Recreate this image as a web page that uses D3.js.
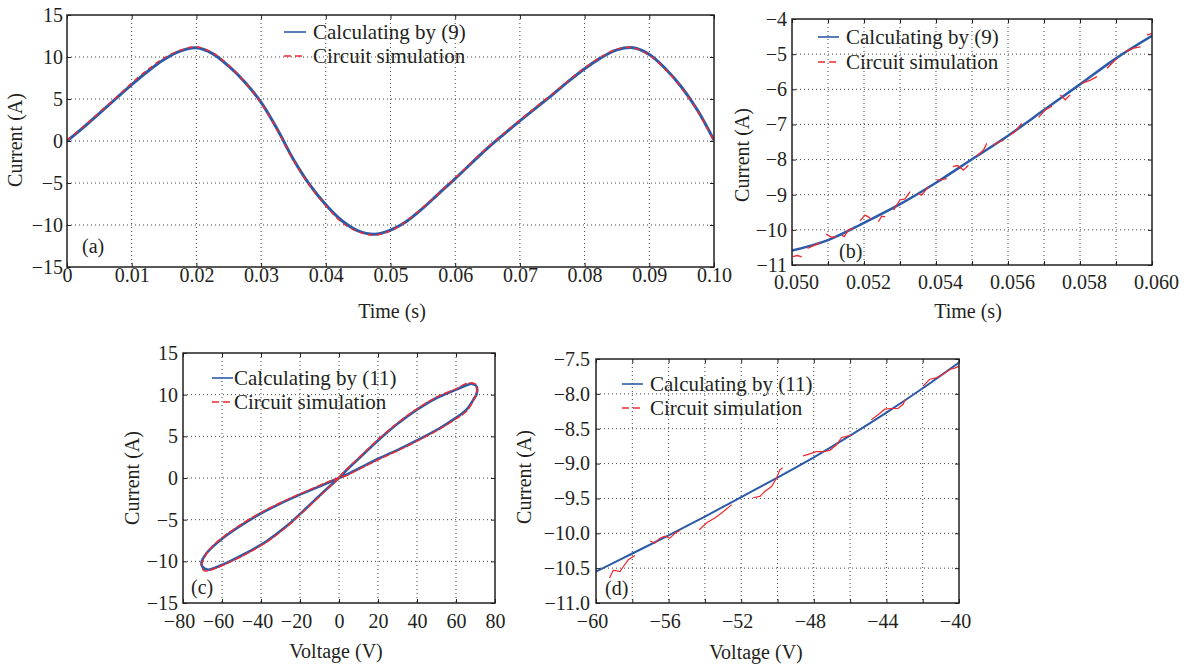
<!DOCTYPE html>
<html>
<head>
<meta charset="utf-8">
<script src="https://cdn.jsdelivr.net/npm/d3@7"></script>
<style>
  body { margin: 0; background: #fff; }
  text { font-family: "Liberation Serif", "Times New Roman", serif; fill: #231f20; }
</style>
</head>
<body>
<svg id="fig" width="1189" height="670"></svg>
<script>
// ---------- (a) current vs time ----------
var timeA = [0, 0.0025, 0.005, 0.0075, 0.01, 0.0125, 0.015, 0.0175, 0.02, 0.0225,
  0.025, 0.0275, 0.03, 0.0325, 0.035, 0.0375, 0.04, 0.0425, 0.045, 0.0475,
  0.05, 0.0525, 0.055, 0.0575, 0.06, 0.0625, 0.065, 0.0675, 0.07, 0.0725,
  0.075, 0.0775, 0.08, 0.0825, 0.085, 0.0875, 0.09, 0.0925, 0.095, 0.0975, 0.1];
var calcA = [0, 1.6, 3.3, 5.0, 6.7, 8.3, 9.7, 10.7, 11.1, 10.4,
  8.9, 7.0, 4.6, 1.4, -2.2, -5.2, -7.6, -9.5, -10.7, -11.1,
  -10.6, -9.55, -8.0, -6.23, -4.48, -2.65, -0.85, 0.8, 2.4, 3.95,
  5.5, 7.1, 8.6, 9.9, 10.85, 11.1, 10.3, 8.6, 6.4, 3.6, 0.1];
var simA = [0.1, 1.7, 3.4, 5.1, 6.9, 8.5, 9.9, 10.8, 11.2, 10.5,
  9.0, 7.0, 4.5, 1.3, -2.3, -5.3, -7.7, -9.7, -10.8, -11.2,
  -10.7, -9.5, -7.9, -6.2, -4.4, -2.55, -0.75, 0.9, 2.5, 4.05,
  5.6, 7.2, 8.7, 10.0, 10.95, 11.1, 10.2, 8.5, 6.3, 3.5, 0.0];
var xTicksA = [0, 0.01, 0.02, 0.03, 0.04, 0.05, 0.06, 0.07, 0.08, 0.09, 0.1];
var xLabelsA = ["0", "0.01", "0.02", "0.03", "0.04", "0.05", "0.06", "0.07", "0.08", "0.09", "0.10"];
var yTicksA = [-15, -10, -5, 0, 5, 10, 15];
var yLabelsA = ["\u221215", "\u221210", "\u22125", "0", "5", "10", "15"];

// ---------- (b) zoom of (a) ----------
var timeB = [0.050, 0.051, 0.052, 0.053, 0.054, 0.055, 0.056, 0.057, 0.058, 0.059, 0.060];
var calcB = [-10.59, -10.29, -9.80, -9.27, -8.66, -7.99, -7.32, -6.59, -5.86, -5.12, -4.48];
var simB = [
  [[0.05002, -10.76], [0.05015, -10.73], [0.05027, -10.77]],
  [[0.05043, -10.53], [0.0506, -10.45], [0.05078, -10.37]],
  [[0.05095, -10.12], [0.0511, -10.21], [0.05122, -10.2]],
  [[0.05138, -10.15], [0.05145, -10.19], [0.05157, -10.0], [0.0517, -9.96]],
  [[0.05189, -9.74], [0.05203, -9.58], [0.05212, -9.63], [0.0522, -9.7]],
  [[0.0524, -9.77], [0.05249, -9.61], [0.05259, -9.63]],
  [[0.05282, -9.44], [0.053, -9.15], [0.05314, -9.12], [0.05328, -8.91]],
  [[0.05351, -8.96], [0.0536, -9.01], [0.05379, -8.77]],
  [[0.05402, -8.58], [0.05415, -8.57], [0.0543, -8.54]],
  [[0.05447, -8.2], [0.0546, -8.17], [0.05476, -8.3], [0.0549, -8.16]],
  [[0.05513, -7.9], [0.05532, -7.73], [0.05541, -7.54]],
  [[0.0556, -7.59], [0.05574, -7.5], [0.05588, -7.45]],
  [[0.05606, -7.3], [0.0562, -7.2], [0.05638, -6.97]],
  [[0.05685, -6.8], [0.05703, -6.59], [0.05722, -6.48]],
  [[0.05745, -6.16], [0.05759, -6.3], [0.05773, -6.16]],
  [[0.05805, -5.83], [0.05829, -5.74], [0.05847, -5.64]],
  [[0.05875, -5.4], [0.05889, -5.26], [0.05903, -5.12]],
  [[0.05926, -4.93], [0.05949, -4.83], [0.05968, -4.79]],
  [[0.05986, -4.46], [0.06, -4.41]]
];
var xTicksB = [0.050, 0.051, 0.052, 0.053, 0.054, 0.055, 0.056, 0.057, 0.058, 0.059, 0.060];
var xLabelsB = ["0.050", "", "0.052", "", "0.054", "", "0.056", "", "0.058", "", "0.060"];
var yTicksB = [-11, -10, -9, -8, -7, -6, -5, -4];
var yLabelsB = ["\u221211", "\u221210", "\u22129", "\u22128", "\u22127", "\u22126", "\u22125", "\u22124"];

// ---------- (c) current vs voltage loop ----------
var voltC = [0, 5, 10, 20, 30, 40, 50, 60, 65, 68.3, 70.2, 70.9, 70.4, 68.9, 65.4, 58.6,
  51.8, 41.5, 31.2, 21, 10.7, 3.9, 0, -6, -13, -23, -33, -42, -51, -59,
  -65, -68.5, -70.5, -70.2, -67.2, -62.9, -56, -47.5, -37.2, -27, -16.7, -8.1, 0];
var calcC = [0, 1.2, 2.3, 4.5, 6.5, 8.2, 9.6, 10.6, 11.1, 11.3, 11.1, 10.6, 10.0, 9.4, 8.2, 7.0,
  6.0, 4.7, 3.5, 2.4, 1.2, 0.4, 0, -0.6, -1.3, -2.3, -3.4, -4.5, -5.8, -7.1,
  -8.3, -9.2, -10.1, -10.6, -11.0, -10.7, -10.0, -9.0, -7.6, -5.8, -3.6, -1.7, 0];
var voltSimC = [0, 5, 10, 20, 30, 40, 50, 60, 65, 68.3, 70.2, 70.6, 69.8, 68.5, 65.4, 58.6,
  51.8, 41.5, 31.2, 21, 10.7, 3.9, 0, -6, -13, -23, -33, -42, -51, -59,
  -65, -68.5, -70.3, -69.5, -67, -62.9, -56, -47.5, -37.2, -27, -16.7, -8.1, 0];
var simC = [0.1, 1.3, 2.4, 4.6, 6.6, 8.3, 9.7, 10.7, 11.3, 11.4, 11.2, 10.3, 9.7, 9.1, 8.0, 6.9,
  5.9, 4.6, 3.4, 2.3, 1.1, 0.3, 0, -0.5, -1.2, -2.2, -3.3, -4.4, -5.7, -7.0,
  -8.2, -9.3, -10.3, -11.1, -11.1, -10.8, -10.1, -9.1, -7.7, -5.9, -3.7, -1.8, 0];
var xTicksC = [-80, -60, -40, -20, 0, 20, 40, 60, 80];
var xLabelsC = ["\u221280", "\u221260", "\u221240", "\u221220", "0", "20", "40", "60", "80"];
var yTicksC = [-15, -10, -5, 0, 5, 10, 15];
var yLabelsC = ["\u221215", "\u221210", "\u22125", "0", "5", "10", "15"];

// ---------- (d) zoom of (c) ----------
var voltD = [-60, -58, -56, -54, -52, -50, -48, -46, -44, -42, -40];
var calcD = [-10.55, -10.29, -10.03, -9.76, -9.48, -9.20, -8.91, -8.60, -8.27, -7.92, -7.55];
var simD = [
  [[-59.25, -10.64], [-59.05, -10.53], [-58.68, -10.55], [-58.5, -10.48], [-58.22, -10.38], [-57.85, -10.32]],
  [[-57.03, -10.11], [-56.75, -10.14], [-56.48, -10.07], [-56.2, -10.04], [-55.93, -10.07], [-55.65, -10.0], [-55.38, -9.96]],
  [[-54.31, -9.95], [-53.9, -9.85], [-53.45, -9.78], [-53.08, -9.71], [-52.62, -9.61], [-52.53, -9.59]],
  [[-51.34, -9.49], [-50.97, -9.47], [-50.7, -9.40], [-50.33, -9.33], [-50.06, -9.21], [-49.87, -9.09], [-49.72, -9.06]],
  [[-48.59, -8.89], [-48.22, -8.86], [-47.85, -8.83], [-47.49, -8.83], [-47.12, -8.81], [-46.75, -8.73], [-46.48, -8.63], [-46.2, -8.61], [-45.93, -8.59]],
  [[-44.83, -8.37], [-44.46, -8.30], [-44.09, -8.22], [-43.73, -8.21], [-43.36, -8.21], [-43.08, -8.15], [-42.96, -8.08]],
  [[-41.98, -7.89], [-41.61, -7.79], [-41.25, -7.77], [-40.88, -7.72], [-40.51, -7.65], [-40.24, -7.63], [-39.96, -7.6]]
];
var xTicksD = [-60, -58, -56, -54, -52, -50, -48, -46, -44, -42, -40];
var xLabelsD = ["\u221260", "", "\u221256", "", "\u221252", "", "\u221248", "", "\u221244", "", "\u221240"];
var yTicksD = [-11, -10.5, -10, -9.5, -9, -8.5, -8, -7.5];
var yLabelsD = ["\u221211.0", "\u221210.5", "\u221210.0", "\u22129.5", "\u22129.0", "\u22128.5", "\u22128.0", "\u22127.5"];

var blue = "#2b5ba8";
var red = "#ee2a30";
var ink = "#231f20";

var svg = d3.select("#fig");

function drawPanel(p) {
  var w = p.right - p.left, h = p.bottom - p.top;
  var x = d3.scaleLinear().domain(p.xDomain).range([0, w]);
  var y = d3.scaleLinear().domain(p.yDomain).range([h, 0]);

  var g = svg.append("g").attr("transform", "translate(" + p.left + "," + p.top + ")");

  g.append("clipPath").attr("id", "clip" + p.id)
    .append("rect").attr("width", w).attr("height", h);

  // dotted grid
  var grid = g.append("g").attr("stroke", "#444").attr("stroke-width", 1).attr("stroke-dasharray", "1,3");
  grid.selectAll("line.gx")
    .data(p.xTicks.slice(1, -1))
    .enter().append("line")
    .attr("x1", function(d) { return x(d); }).attr("x2", function(d) { return x(d); })
    .attr("y1", 0).attr("y2", h);
  grid.selectAll("line.gy")
    .data(p.yTicks.slice(1, -1))
    .enter().append("line")
    .attr("y1", function(d) { return y(d); }).attr("y2", function(d) { return y(d); })
    .attr("x1", 0).attr("x2", w);

  // series
  var plot = g.append("g").attr("clip-path", "url(#clip" + p.id + ")");
  p.draw(plot, x, y);

  // axes (ticks pointing inward)
  function style(ax) {
    ax.select(".domain").remove();
    ax.attr("font-family", "Liberation Serif, Times New Roman, serif")
      .attr("font-size", 20)
      .attr("color", ink);
  }
  var bottom = g.append("g").attr("transform", "translate(0," + h + ")")
    .call(d3.axisBottom(x).tickValues(p.xTicks)
      .tickFormat(function(d, i) { return p.xLabels[i]; })
      .tickSizeInner(-4).tickSizeOuter(0).tickPadding(p.xPad));
  style(bottom);
  bottom.selectAll("text").attr("dx", function() {
    return this.textContent.charAt(0) == "\u2212" ? -4 : p.xShift;
  });
  var left = g.append("g")
    .call(d3.axisLeft(y).tickValues(p.yTicks)
      .tickFormat(function(d, i) { return p.yLabels[i]; })
      .tickSizeInner(-4).tickSizeOuter(0).tickPadding(p.yPad));
  style(left);
  var top = g.append("g")
    .call(d3.axisTop(x).tickValues(p.xTicks).tickFormat("").tickSizeInner(-4).tickSizeOuter(0));
  style(top);
  var right = g.append("g").attr("transform", "translate(" + w + ",0)")
    .call(d3.axisRight(y).tickValues(p.yTicks).tickFormat("").tickSizeInner(-4).tickSizeOuter(0));
  style(right);

  // frame
  g.append("rect")
    .attr("width", w).attr("height", h)
    .attr("fill", "none").attr("stroke", ink).attr("stroke-width", 1.5);

  // axis titles
  svg.append("text")
    .attr("x", p.xTitle[0]).attr("y", p.xTitle[1])
    .attr("text-anchor", "middle").attr("font-size", 20)
    .text(p.xTitleText);
  svg.append("text")
    .attr("transform", "translate(" + p.yTitle[0] + "," + p.yTitle[1] + ") rotate(-90)")
    .attr("text-anchor", "middle").attr("font-size", 20)
    .text("Current (A)");

  // panel tag
  svg.append("text")
    .attr("x", p.tag[0]).attr("y", p.tag[1])
    .attr("font-size", 20)
    .text(p.tagText);

  // legend
  var lg = svg.append("g");
  var rows = [
    { text: p.legend, color: blue, dash: null },
    { text: "Circuit simulation", color: red, dash: "7,4" }
  ];
  rows.forEach(function(r, i) {
    var ly = p.legendY[i];
    lg.append("line")
      .attr("x1", p.legendX[0]).attr("x2", p.legendX[1])
      .attr("y1", ly).attr("y2", ly)
      .attr("stroke", r.color).attr("stroke-width", 1.6)
      .attr("stroke-dasharray", r.dash);
    lg.append("text")
      .attr("x", p.legendX[2]).attr("y", ly + 7)
      .attr("font-size", 21)
      .text(r.text);
  });
}

var smooth = d3.line().curve(d3.curveCatmullRom);
var jagged = d3.line();

// (a)
drawPanel({
  id: "a", left: 67, right: 714, top: 15, bottom: 267,
  xDomain: [0, 0.1], yDomain: [-15, 15],
  xTicks: xTicksA, xLabels: xLabelsA, yTicks: yTicksA, yLabels: yLabelsA,
  xPad: 1, yPad: 4, xShift: 0,
  xTitleText: "Time (s)", xTitle: [392, 318], yTitle: [22, 140],
  tagText: "(a)", tag: [82, 253],
  legend: "Calculating by (9)", legendX: [284, 306, 313], legendY: [32, 56],
  draw: function(plot, x, y) {
    plot.append("path")
      .attr("d", smooth(timeA.map(function(t, i) { return [x(t), y(calcA[i])]; })))
      .attr("fill", "none").attr("stroke", blue).attr("stroke-width", 3);
    plot.append("path")
      .attr("d", smooth(timeA.map(function(t, i) { return [x(t), y(simA[i])]; })))
      .attr("fill", "none").attr("stroke", red).attr("stroke-width", 1.5)
      .attr("stroke-dasharray", "5,4");
  }
});

// (b)
drawPanel({
  id: "b", left: 792, right: 1152, top: 19, bottom: 265,
  xDomain: [0.05, 0.06], yDomain: [-11, -4],
  xTicks: xTicksB, xLabels: xLabelsB, yTicks: yTicksB, yLabels: yLabelsB,
  xPad: 10, yPad: 5, xShift: 4,
  xTitleText: "Time (s)", xTitle: [968, 318], yTitle: [749, 155],
  tagText: "(b)", tag: [839, 258],
  legend: "Calculating by (9)", legendX: [818, 839, 846], legendY: [37, 62],
  draw: function(plot, x, y) {
    plot.append("path")
      .attr("d", smooth(timeB.map(function(t, i) { return [x(t), y(calcB[i])]; })))
      .attr("fill", "none").attr("stroke", blue).attr("stroke-width", 2.5);
    plot.selectAll("path.sim")
      .data(simB)
      .enter().append("path")
      .attr("class", "sim")
      .attr("d", function(seg) { return jagged(seg.map(function(d) { return [x(d[0]), y(d[1])]; })); })
      .attr("fill", "none").attr("stroke", red).attr("stroke-width", 1.3);
  }
});

// (c)
drawPanel({
  id: "c", left: 183, right: 495, top: 353, bottom: 603,
  xDomain: [-80, 80], yDomain: [-15, 15],
  xTicks: xTicksC, xLabels: xLabelsC, yTicks: yTicksC, yLabels: yLabelsC,
  xPad: 11, yPad: 5, xShift: 0,
  xTitleText: "Voltage (V)", xTitle: [336, 658], yTitle: [139, 478],
  tagText: "(c)", tag: [191, 594],
  legend: "Calculating by (11)", legendX: [212, 233, 234], legendY: [378, 402],
  draw: function(plot, x, y) {
    plot.append("path")
      .attr("d", smooth(voltC.map(function(v, i) { return [x(v), y(calcC[i])]; })))
      .attr("fill", "none").attr("stroke", blue).attr("stroke-width", 2.6);
    plot.append("path")
      .attr("d", smooth(voltSimC.map(function(v, i) { return [x(v), y(simC[i])]; })))
      .attr("fill", "none").attr("stroke", red).attr("stroke-width", 1.5)
      .attr("stroke-dasharray", "7,2");
  }
});

// (d)
drawPanel({
  id: "d", left: 596, right: 959, top: 359, bottom: 603,
  xDomain: [-60, -40], yDomain: [-11, -7.5],
  xTicks: xTicksD, xLabels: xLabelsD, yTicks: yTicksD, yLabels: yLabelsD,
  xPad: 11, yPad: 6, xShift: 0,
  xTitleText: "Voltage (V)", xTitle: [756, 659], yTitle: [531, 477],
  tagText: "(d)", tag: [605, 595],
  legend: "Calculating by (11)", legendX: [622, 643, 650], legendY: [384, 408],
  draw: function(plot, x, y) {
    plot.append("path")
      .attr("d", smooth(voltD.map(function(v, i) { return [x(v), y(calcD[i])]; })))
      .attr("fill", "none").attr("stroke", blue).attr("stroke-width", 2);
    plot.selectAll("path.sim")
      .data(simD)
      .enter().append("path")
      .attr("class", "sim")
      .attr("d", function(seg) { return jagged(seg.map(function(d) { return [x(d[0]), y(d[1])]; })); })
      .attr("fill", "none").attr("stroke", red).attr("stroke-width", 1.2);
  }
});
</script>
</body>
</html>
